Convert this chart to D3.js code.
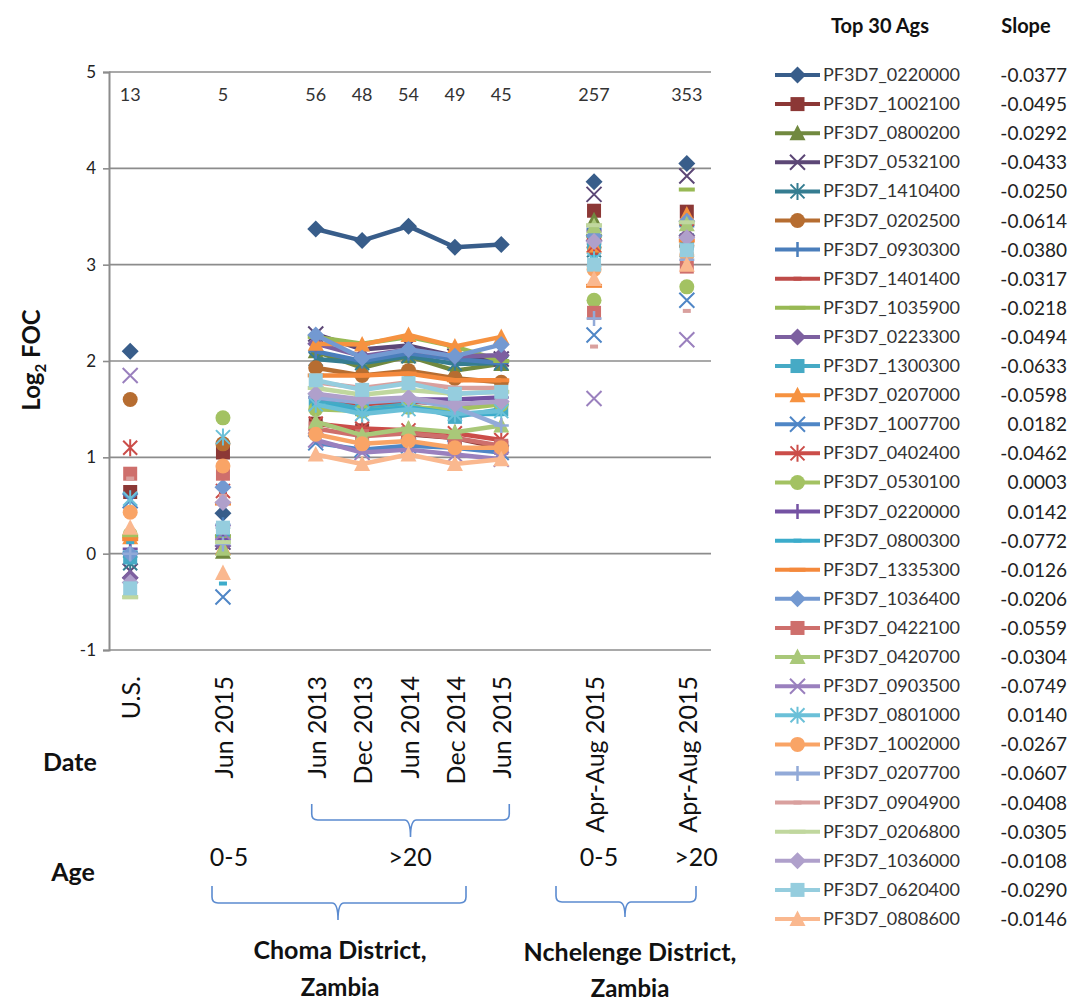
<!DOCTYPE html>
<html>
<head>
<meta charset="utf-8">
<script src="https://cdnjs.cloudflare.com/ajax/libs/d3/7.8.5/d3.min.js"></script>
<style>
  body { margin: 0; background: #fff; }
  text { font-family: "Lato", "Carlito", "Liberation Sans", sans-serif; }
</style>
</head>
<body>
<script>
// ---------- DATA ----------
const categories = ["U.S.", "", "Jun 2015", "", "Jun 2013", "Dec 2013", "Jun 2014", "Dec 2014", "Jun 2015", "", "Apr-Aug 2015", "", "Apr-Aug 2015"];
const counts = [13, null, 5, null, 56, 48, 54, 49, 45, null, 257, null, 353];
// slots in the category list that carry data (blank slots are gaps)
const dataSlots = [0, 2, 4, 5, 6, 7, 8, 10, 12];

const antigens = ["PF3D7_0220000","PF3D7_1002100","PF3D7_0800200","PF3D7_0532100","PF3D7_1410400","PF3D7_0202500",
  "PF3D7_0930300","PF3D7_1401400","PF3D7_1035900","PF3D7_0223300","PF3D7_1300300","PF3D7_0207000",
  "PF3D7_1007700","PF3D7_0402400","PF3D7_0530100","PF3D7_0220000","PF3D7_0800300","PF3D7_1335300",
  "PF3D7_1036400","PF3D7_0422100","PF3D7_0420700","PF3D7_0903500","PF3D7_0801000","PF3D7_1002000",
  "PF3D7_0207700","PF3D7_0904900","PF3D7_0206800","PF3D7_1036000","PF3D7_0620400","PF3D7_0808600"];
const slopes = ["-0.0377","-0.0495","-0.0292","-0.0433","-0.0250","-0.0614","-0.0380","-0.0317","-0.0218","-0.0494",
  "-0.0633","-0.0598","0.0182","-0.0462","0.0003","0.0142","-0.0772","-0.0126","-0.0206","-0.0559",
  "-0.0304","-0.0749","0.0140","-0.0267","-0.0607","-0.0408","-0.0305","-0.0108","-0.0290","-0.0146"];

// Log2 FOC per antigen: [U.S., Choma 0-5 Jun 2015, Choma >20 Jun13, Dec13, Jun14, Dec14, Jun15, Nchelenge 0-5, Nchelenge >20]
const focValues = [
  [ 2.10,  0.42, 3.37, 3.25, 3.40, 3.18, 3.21, 3.86, 4.05],
  [ 0.64,  1.05, 1.35, 1.28, 1.24, 1.20, 1.10, 3.56, 3.55],
  [-0.38,  0.02, 2.10, 1.93, 2.05, 1.90, 1.97, 3.46, 3.48],
  [-0.18,  0.12, 2.28, 2.12, 2.16, 2.05, 2.02, 3.73, 3.92],
  [-0.10,  0.20, 2.02, 1.98, 2.05, 1.97, 1.98, 3.15, 3.25],
  [ 1.60,  1.14, 1.93, 1.85, 1.90, 1.82, 1.78, 3.18, 3.20],
  [ 0.02,  0.30, 2.10, 2.00, 2.08, 2.02, 1.98, 3.37, 3.40],
  [ 0.25,  0.62, 1.60, 1.55, 1.58, 1.55, 1.55, 3.10, 3.05],
  [ 0.18,  0.18, 2.25, 2.18, 2.25, 2.15, 2.00, 3.30, 3.78],
  [-0.25,  0.08, 2.18, 2.05, 2.12, 2.05, 2.06, 3.25, 3.30],
  [-0.04,  0.25, 1.60, 1.50, 1.55, 1.42, 1.50, 3.22, 3.22],
  [ 0.17,  0.06, 2.18, 2.17, 2.27, 2.15, 2.25, 3.20, 3.52],
  [ 0.55, -0.45, 1.15, 1.08, 1.12, 1.10, 1.05, 2.27, 2.63],
  [ 1.10,  0.65, 1.35, 1.30, 1.28, 1.25, 1.18, 3.20, 3.35],
  [ 0.20,  1.41, 1.50, 1.48, 1.52, 1.50, 1.55, 2.63, 2.77],
  [ 0.05,  0.15, 1.62, 1.58, 1.60, 1.60, 1.62, 3.35, 3.45],
  [ 0.12, -0.31, 1.55, 1.48, 1.52, 1.45, 1.45, 3.08, 3.18],
  [ 0.15,  0.52, 1.85, 1.85, 1.87, 1.80, 1.80, 2.78, 3.25],
  [ 0.00,  0.69, 2.27, 2.03, 2.12, 2.05, 2.17, 3.30, 3.45],
  [ 0.83,  0.83, 1.30, 1.22, 1.25, 1.20, 1.12, 2.50, 2.98],
  [-0.40,  0.05, 1.37, 1.23, 1.30, 1.26, 1.33, 3.40, 3.42],
  [ 1.85,  0.22, 1.18, 1.05, 1.08, 1.03, 0.98, 1.61, 2.22],
  [ 0.57,  1.21, 1.55, 1.45, 1.50, 1.45, 1.48, 3.05, 3.15],
  [ 0.43,  0.91, 1.24, 1.14, 1.17, 1.10, 1.10, 2.95, 3.10],
  [ 0.00,  0.10, 1.62, 1.57, 1.60, 1.52, 1.33, 2.44, 3.05],
  [ 0.78,  0.60, 1.78, 1.72, 1.78, 1.72, 1.72, 2.15, 2.52],
  [-0.45,  0.12, 1.72, 1.65, 1.70, 1.66, 1.68, 3.41, 3.44],
  [-0.30,  0.53, 1.66, 1.60, 1.62, 1.55, 1.58, 3.24, 3.28],
  [-0.36,  0.27, 1.80, 1.70, 1.77, 1.66, 1.68, 3.00, 3.15],
  [ 0.27, -0.20, 1.03, 0.93, 1.03, 0.93, 0.98, 2.85, 3.00]
];

const colors = ["#385D8A","#8C3836","#71893F","#5C4776","#357D91","#B66D31",
  "#4A7EBB","#BE4B48","#98B954","#7D60A0","#46AAC5","#F69240",
  "#4F86C6","#CB4D49","#A3C262","#7452A3","#3CACCB","#F4893C",
  "#7399D1","#CE6F6C","#A9C879","#9A80BE","#6BC0D8","#F9A466",
  "#92AAD8","#D9A09E","#C0D79E","#AFA0CB","#95CDDE","#FAB88F"];
const markerCycle = ["diamond","square","triangle","x","star","circle","plus","dash","longdash"];
const yTicks = [-1, 0, 1, 2, 3, 4, 5];

// ---------- LAYOUT ----------
const W = 1070, H = 1002;
const plot = { left: 109, right: 711, top: 72, bottom: 650 };
const svg = d3.select("body").append("svg").attr("width", W).attr("height", H);

const x = d3.scalePoint().domain(d3.range(categories.length)).range([107, 710]).padding(0.5);
const y = d3.scaleLinear().domain([-1, 5]).range([plot.bottom, plot.top]);

// gridlines
svg.append("g").selectAll("line").data(yTicks).join("line")
  .attr("x1", plot.left).attr("x2", plot.right)
  .attr("y1", d => y(d)).attr("y2", d => y(d))
  .attr("stroke", "#8c8c8c").attr("stroke-width", 1.6);

// y axis
const yAxis = svg.append("g").attr("transform", `translate(${plot.left},0)`)
  .call(d3.axisLeft(y).tickValues(yTicks).tickSize(6).tickPadding(7).tickFormat(d => String(d)));
yAxis.select(".domain").attr("stroke", "#8c8c8c").attr("stroke-width", 2);
yAxis.selectAll(".tick line").attr("stroke", "#8c8c8c").attr("stroke-width", 1.6);
yAxis.selectAll(".tick text").attr("font-size", 17).attr("fill", "#222")
  .style("font-family", "Lato, Carlito, 'Liberation Sans', sans-serif");

// y-axis title
const yt = svg.append("text").attr("transform", "translate(40,360) rotate(-90)")
  .attr("text-anchor", "middle").attr("font-size", 24).attr("font-weight", "bold").attr("fill", "#111");
yt.append("tspan").text("Log");
yt.append("tspan").attr("font-size", 15).attr("dy", 6).text("2");
yt.append("tspan").attr("dy", -6).text(" FOC");

// counts
svg.append("g").selectAll("text").data(counts.map((c, i) => ({ c, i })).filter(d => d.c != null)).join("text")
  .attr("x", d => x(d.i)).attr("y", 101).attr("text-anchor", "middle")
  .attr("font-size", 18).attr("fill", "#333").text(d => d.c);

// category labels
svg.append("g").selectAll("text").data(categories.map((c, i) => ({ c, i })).filter(d => d.c !== "")).join("text")
  .attr("transform", d => `translate(${x(d.i)},676) rotate(-90)`)
  .attr("text-anchor", "end").attr("dominant-baseline", "central")
  .attr("font-size", 25).attr("fill", "#111").text(d => d.c);

// ---------- MARKERS ----------
function drawMarker(g, type, color, cx, cy) {
  const m = g.append("g").attr("transform", `translate(${cx},${cy})`);
  switch (type) {
    case "diamond": m.append("path").attr("d", "M0,-8.5L8.5,0L0,8.5L-8.5,0Z").attr("fill", color); break;
    case "square": m.append("rect").attr("x", -7).attr("y", -7).attr("width", 14).attr("height", 14).attr("fill", color); break;
    case "triangle": m.append("path").attr("d", "M0,-8.5L8,7L-8,7Z").attr("fill", color); break;
    case "x": m.append("path").attr("d", "M-7.5,-7.5L7.5,7.5M-7.5,7.5L7.5,-7.5").attr("stroke", color).attr("stroke-width", 2).attr("fill", "none"); break;
    case "star": m.append("path").attr("d", "M-7,-7L7,7M-7,7L7,-7M0,-8.5L0,8.5").attr("stroke", color).attr("stroke-width", 2).attr("fill", "none"); break;
    case "circle": m.append("circle").attr("r", 7.5).attr("fill", color); break;
    case "plus": m.append("path").attr("d", "M-7.5,0L7.5,0M0,-7.5L0,7.5").attr("stroke", color).attr("stroke-width", 2.5).attr("fill", "none"); break;
    case "dash": m.append("rect").attr("x", -4).attr("y", -2).attr("width", 8).attr("height", 4).attr("fill", color); break;
    case "longdash": m.append("rect").attr("x", -8).attr("y", -2).attr("width", 16).attr("height", 4).attr("fill", color); break;
  }
}

// ---------- SERIES ----------
const line = d3.line().defined(d => d.v != null).x(d => x(d.i)).y(d => y(d.v));
focValues.forEach((vals, s) => {
  const slots = categories.map((c, i) => ({ i, v: null }));
  dataSlots.forEach((slot, k) => { slots[slot].v = vals[k]; });
  const g = svg.append("g");
  g.append("path").attr("d", line(slots)).attr("fill", "none")
    .attr("stroke", colors[s]).attr("stroke-width", 4.5)
    .attr("stroke-linejoin", "round").attr("stroke-linecap", "butt");
  slots.filter(d => d.v != null).forEach(d => drawMarker(g, markerCycle[s % 9], colors[s], x(d.i), y(d.v)));
});

// ---------- LEGEND ----------
svg.append("text").attr("x", 880).attr("y", 33).attr("text-anchor", "middle")
  .attr("font-size", 20).attr("font-weight", "bold").attr("fill", "#111").text("Top 30 Ags");
svg.append("text").attr("x", 1026).attr("y", 33).attr("text-anchor", "middle")
  .attr("font-size", 20).attr("font-weight", "bold").attr("fill", "#111").text("Slope");

const legendY = d3.scaleLinear().domain([0, antigens.length - 1]).range([75, 919]);
antigens.forEach((name, s) => {
  const ry = legendY(s);
  const g = svg.append("g");
  g.append("line").attr("x1", 775).attr("x2", 820).attr("y1", ry).attr("y2", ry)
    .attr("stroke", colors[s]).attr("stroke-width", 4);
  drawMarker(g, markerCycle[s % 9], colors[s], 797.5, ry);
  g.append("text").attr("x", 823).attr("y", ry + 6).attr("font-size", 18).attr("fill", "#333").text(name);
  g.append("text").attr("x", 1067).attr("y", ry + 7).attr("text-anchor", "end")
    .attr("font-size", 19).attr("fill", "#222").text(slopes[s]);
});

// ---------- ANNOTATIONS ----------
function brace(x1, x2, xm, y0, y1, y2) {
  const r = 6;
  return `M${x1},${y0}L${x1},${y1 - r}Q${x1},${y1} ${x1 + r},${y1}L${xm - r},${y1}Q${xm},${y1} ${xm},${y2}` +
    `Q${xm},${y1} ${xm + r},${y1}L${x2 - r},${y1}Q${x2},${y1} ${x2},${y1 - r}L${x2},${y0}`;
}
const braceColor = "#5B8BD0";
svg.append("path").attr("d", brace(x(4) - 4, x(8) + 8, x(6) + 2, 804, 820, 837))
  .attr("fill", "none").attr("stroke", braceColor).attr("stroke-width", 1.6);
svg.append("path").attr("d", brace(212, 466, 338, 886, 903, 920))
  .attr("fill", "none").attr("stroke", braceColor).attr("stroke-width", 1.6);
svg.append("path").attr("d", brace(556, 696, 625, 886, 902, 917))
  .attr("fill", "none").attr("stroke", braceColor).attr("stroke-width", 1.6);

const bold = (tx, ty, t, fs) => svg.append("text").attr("x", tx).attr("y", ty).attr("text-anchor", "middle")
  .attr("font-size", fs).attr("font-weight", "bold").attr("fill", "#111").text(t);
const plain = (tx, ty, t, fs) => svg.append("text").attr("x", tx).attr("y", ty).attr("text-anchor", "middle")
  .attr("font-size", fs).attr("fill", "#111").text(t);

bold(70, 771, "Date", 25);
bold(73, 881, "Age", 25);
plain(229, 866, "0-5", 25);
plain(410, 866, ">20", 25);
plain(599, 866, "0-5", 25);
plain(696, 866, ">20", 25);
bold(340, 959, "Choma District,", 25);
bold(340, 996, "Zambia", 24);
bold(630, 961, "Nchelenge District,", 25);
bold(630, 997, "Zambia", 24);
</script>
</body>
</html>
